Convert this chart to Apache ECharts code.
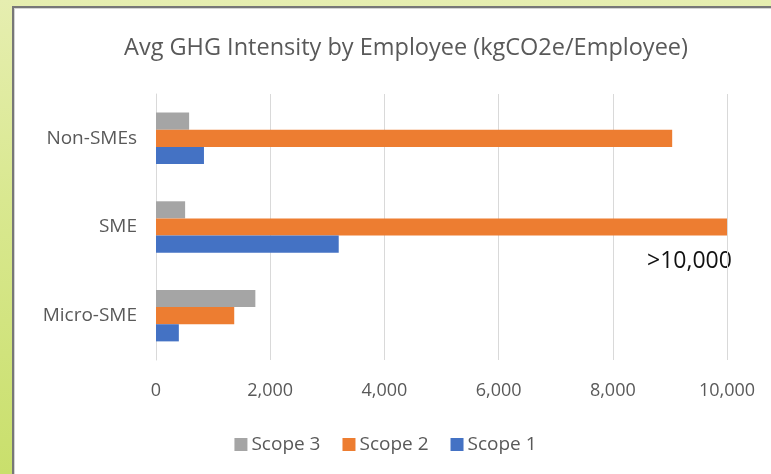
<!DOCTYPE html>
<html>
<head>
<meta charset="utf-8">
<script src="https://cdn.jsdelivr.net/npm/echarts@6/dist/echarts.min.js"></script>
<style>
  html, body { margin: 0; padding: 0; }
  body {
    width: 771px; height: 474px; overflow: hidden; position: relative;
    background: linear-gradient(180deg, #e6eeb0 0px, #d9e890 200px, #c9df6c 474px);
  }
  #panel {
    position: absolute; left: 12px; top: 6px; right: -3px; bottom: -3px;
    background: #fff; border-left: 2px solid #777; border-top: 2px solid #777;
    box-shadow: inset 1px 1px 0 #d4d4d4;
  }
  #chart { position: absolute; left: 0; top: 0; width: 771px; height: 474px; }
</style>
</head>
<body>
<div id="panel"></div>
<div id="chart"></div>
<script>
// categories bottom to top (category axis starts at the bottom)
var categories = ['Micro-SME', 'SME', 'Non-SMEs'];
var scope1 = [400, 3200, 840];
var scope2 = [1370, 10000, 9040];
var scope3 = [1740, 510, 580];
var xTicks = [0, 2000, 4000, 6000, 8000, 10000];

var font = '"Open Sans", Lato, sans-serif';
var textColor = '#595959';

function barSeries(name, values, color) {
    return {
        name: name,
        type: 'bar',
        data: values,
        barGap: '0%',
        barCategoryGap: '42%',
        itemStyle: { color: color },
        silent: true
    };
}

var option = {
    animation: false,
    title: {
        text: 'Avg GHG Intensity by Employee (kgCO2e/Employee)',
        left: 401,
        textAlign: 'center',
        top: 31,
        textStyle: { fontFamily: font, fontSize: 23.5, fontWeight: 'normal', color: textColor }
    },
    legend: {
        data: ['Scope 3', 'Scope 2', 'Scope 1'],
        left: 'center',
        top: 430,
        itemWidth: 13,
        itemHeight: 13,
        itemGap: 22,
        icon: 'rect',
        textStyle: { fontFamily: font, fontSize: 19, color: textColor, padding: [0, 0, 0, -1] }
    },
    grid: {
        left: 156,
        right: 44,
        top: 94,
        bottom: 114,
        containLabel: false
    },
    xAxis: {
        type: 'value',
        min: xTicks[0],
        max: xTicks[xTicks.length - 1],
        interval: 2000,
        axisLine: { show: false },
        axisTick: { show: false },
        splitLine: { show: true, lineStyle: { color: '#d9d9d9', width: 1 } },
        axisLabel: {
            margin: 22,
            fontFamily: font, fontSize: 18, color: textColor,
            formatter: function (v) { return v.toLocaleString('en-US'); }
        }
    },
    yAxis: {
        type: 'category',
        data: categories,
        axisTick: { show: false },
        axisLine: { show: true, lineStyle: { color: '#d9d9d9', width: 1 } },
        axisLabel: { margin: 19, fontFamily: font, fontSize: 19, color: textColor }
    },
    // first series is drawn at the top of each group
    series: [
        barSeries('Scope 3', scope3, '#a5a5a5'),
        barSeries('Scope 2', scope2, '#ed7d31'),
        barSeries('Scope 1', scope1, '#4472c4')
    ],
    graphic: [{
        type: 'text',
        left: 647,
        top: 250,
        style: { text: '>10,000', fontFamily: font, fontSize: 23, fill: '#111' }
    }]
};

var myChart = echarts.init(document.getElementById('chart'));
myChart.setOption(option);
</script>
</body>
</html>
